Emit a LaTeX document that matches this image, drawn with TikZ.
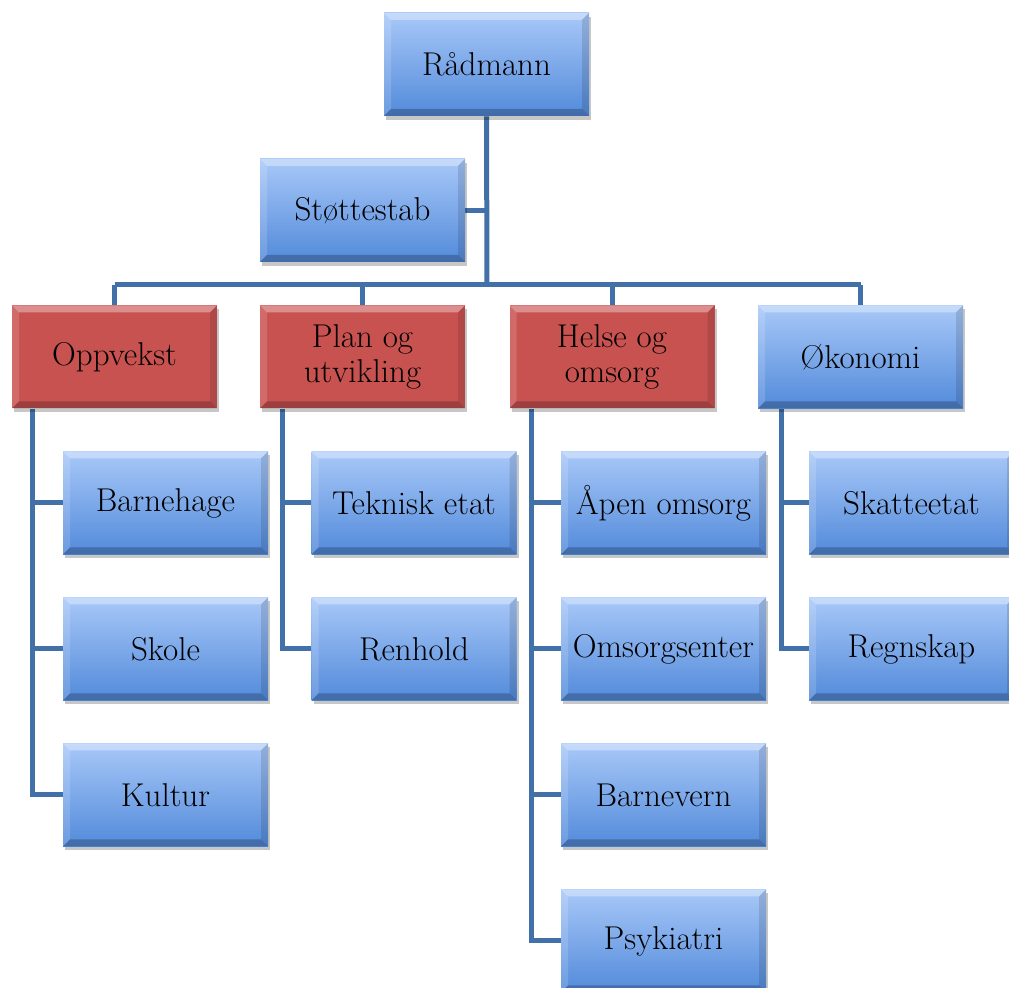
\documentclass[tikz,border=0pt]{standalone}
\usetikzlibrary{shadows,backgrounds}
\definecolor{bluetop}{RGB}{168,200,248}
\definecolor{bluebot}{RGB}{82,138,218}
\definecolor{redfill}{RGB}{200,82,80}
\definecolor{linkcol}{RGB}{66,112,168}
\tikzset{
  bevel/.style={path picture={
    \fill[white,opacity=0.35] (path picture bounding box.north west) -- (path picture bounding box.north east)
      -- ([xshift=-3.5pt,yshift=-3.5pt]path picture bounding box.north east)
      -- ([xshift=3.5pt,yshift=-3.5pt]path picture bounding box.north west) -- cycle;
    \fill[white,opacity=0.15] (path picture bounding box.north west) -- ([xshift=3.5pt,yshift=-3.5pt]path picture bounding box.north west)
      -- ([xshift=3.5pt,yshift=3.5pt]path picture bounding box.south west) -- (path picture bounding box.south west) -- cycle;
    \fill[black,opacity=0.12] (path picture bounding box.north east) -- ([xshift=-3.5pt,yshift=-3.5pt]path picture bounding box.north east)
      -- ([xshift=-3.5pt,yshift=3.5pt]path picture bounding box.south east) -- (path picture bounding box.south east) -- cycle;
    \fill[black,opacity=0.22] (path picture bounding box.south west) -- (path picture bounding box.south east)
      -- ([xshift=-3.5pt,yshift=3.5pt]path picture bounding box.south east)
      -- ([xshift=3.5pt,yshift=3.5pt]path picture bounding box.south west) -- cycle;
  }},
  unit/.style={rectangle, minimum width=102.5pt, minimum height=51.5pt, inner sep=0pt,
    align=center, font=\fontsize{16.5}{17.5}\selectfont,
    drop shadow={shadow xshift=1.2pt, shadow yshift=-2pt, opacity=0.22, fill=black},
    bevel},
  bluebox/.style={unit, top color=bluetop, bottom color=bluebot},
  redbox/.style={unit, fill=redfill},
  link/.style={draw=linkcol, line width=2.5pt, line cap=butt},
}
\begin{document}
\begin{tikzpicture}[x=0.5pt,y=-0.5pt]
\useasboundingbox (0,0) rectangle (1009,988);

% top of the organisation
\node[bluebox] (rad) at (486.5,64.5) {Rådmann};
\node[bluebox] (stab) at (362.5,210.5) {Støttestab};

% departments
\node[redbox] (opp) at (114.5,357) {Oppvekst};
\node[redbox] (plan) at (362.5,357) {Plan og\\utvikling};
\node[redbox] (helse) at (612,357) {Helse og\\omsorg};
\node[bluebox] (oko) at (860.5,357) {Økonomi};

% units under each department
\node[bluebox] (barn) at (165.5,503) {Barnehage};
\node[bluebox] (skole) at (165.5,649) {Skole};
\node[bluebox] (kultur) at (165.5,795) {Kultur};

\node[bluebox] (tek) at (414,503) {Teknisk etat};
\node[bluebox] (ren) at (414,649) {Renhold};

\node[bluebox] (apen) at (663.5,503) {Åpen omsorg};
\node[bluebox] (oms) at (663.5,649) {Omsorgsenter};
\node[bluebox] (bvern) at (663.5,795) {Barnevern};
\node[bluebox] (psyk) at (663.5,941) {Psykiatri};

\node[bluebox] (skatt) at (911.5,503) {Skatteetat};
\node[bluebox] (regn) at (911.5,649) {Regnskap};

\begin{pgfonlayer}{background}
  % main spine and staff branch
  \coordinate (bus) at (487,285);
  \draw[link] (rad.south) -- (bus);
  \draw[link] (stab.east) -- (stab.east -| bus);
  \draw[link] (opp.north |- bus) -- (oko.north |- bus);
  \foreach \d in {opp,plan,helse,oko}
    \draw[link] (\d.north |- bus) -- (\d.north);

  % department trunks
  \draw[link] ([xshift=10.5pt]opp.south west) |- (kultur.west);
  \draw[link] ([xshift=10.5pt]opp.south west |- barn.west) -- (barn.west);
  \draw[link] ([xshift=10.5pt]opp.south west |- skole.west) -- (skole.west);

  \draw[link] ([xshift=11.5pt]plan.south west) |- (ren.west);
  \draw[link] ([xshift=11.5pt]plan.south west |- tek.west) -- (tek.west);

  \draw[link] ([xshift=11pt]helse.south west) |- (psyk.west);
  \draw[link] ([xshift=11pt]helse.south west |- apen.west) -- (apen.west);
  \draw[link] ([xshift=11pt]helse.south west |- oms.west) -- (oms.west);
  \draw[link] ([xshift=11pt]helse.south west |- bvern.west) -- (bvern.west);

  \draw[link] ([xshift=12pt]oko.south west) |- (regn.west);
  \draw[link] ([xshift=12pt]oko.south west |- skatt.west) -- (skatt.west);
\end{pgfonlayer}
\end{tikzpicture}
\end{document}
